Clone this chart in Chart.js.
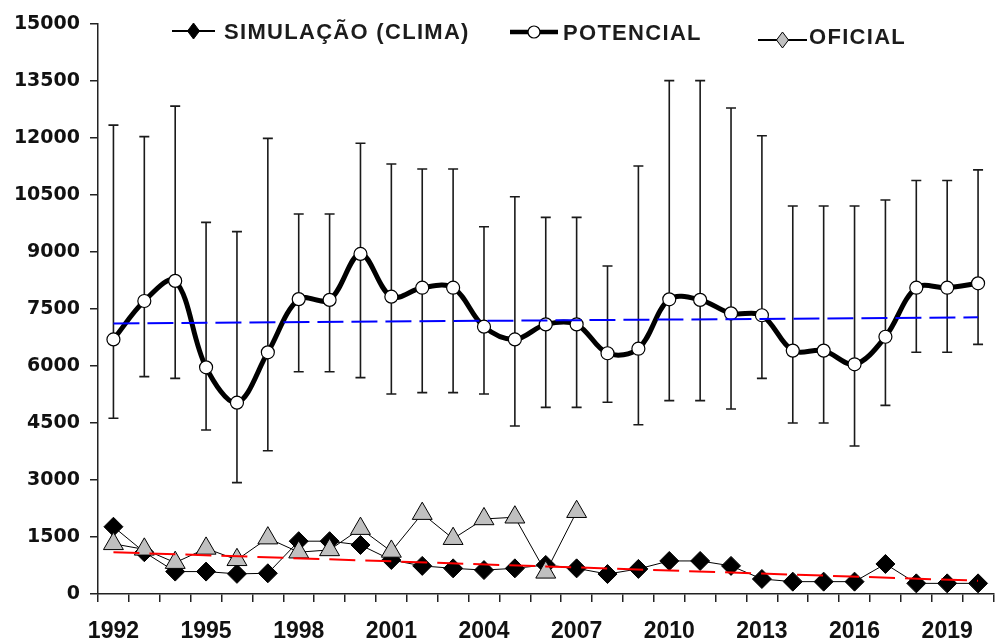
<!DOCTYPE html>
<html>
<head>
<meta charset="utf-8">
<script src="https://cdn.jsdelivr.net/npm/chart.js@4.4.1/dist/chart.umd.min.js"></script>
<style>
    html, body { margin: 0; padding: 0; background: #fff; overflow: hidden; }
    #wrap { width: 1006px; height: 642px; position: relative; }
</style>
</head>
<body>
<div id="wrap"><canvas id="chart"></canvas></div>
<script>
const years = ['1992','1993','1994','1995','1996','1997','1998','1999','2000','2001','2002','2003','2004','2005',
    '2006','2007','2008','2009','2010','2011','2012','2013','2014','2015','2016','2017','2018','2019','2020'];

const potencial = [6700, 7710, 8240, 5965, 5035, 6360, 7760, 7740, 8950, 7825, 8060, 8060, 7035, 6700,
    7095, 7095, 6335, 6455, 7755, 7740, 7385, 7335, 6405, 6405, 6045, 6770, 8060, 8060, 8175];
const potHigh = [12340, 12035, 12840, 9780, 9535, 11990, 10000, 10000, 11860, 11315, 11185, 11185, 9665, 10455,
    9910, 9910, 8630, 11265, 13510, 13510, 12790, 12060, 10210, 10210, 10210, 10370, 10880, 10880, 11160];
const potLow = [4625, 5720, 5675, 4315, 2930, 3770, 5850, 5850, 5695, 5265, 5300, 5300, 5265, 4420,
    4910, 4910, 5045, 4455, 5090, 5090, 4870, 5675, 4500, 4500, 3895, 4965, 6360, 6360, 6570];

const simulacao = [1770, 1100, 590, 590, 530, 545, 1390, 1390, 1290, 895, 740, 675, 630, 675,
    765, 675, 525, 660, 870, 870, 740, 395, 325, 325, 325, 790, 280, 280, 280];
const oficial = [1320, 1175, 825, 1200, 900, 1470, 1100, 1160, 1720, 1120, 2115, 1455, 1975, 2020,
    570, 2165, null, null, null, null, null, null, null, null, null, null, null, null, null];

// trend lines: value at first and last year only
const potTrendEnds = [7120, 7280];
const simTrendEnds = [1100, 350];

const yTicks = [0, 1500, 3000, 4500, 6000, 7500, 9000, 10500, 12000, 13500, 15000];

function endsToData(ends) {
    return years.map((y, i) => i === 0 ? ends[0] : (i === years.length - 1 ? ends[1] : null));
}

const errorBars = {
    id: 'errorBars',
    beforeDatasetsDraw(chart) {
        const ctx = chart.ctx;
        const xs = chart.scales.x, ys = chart.scales.y;
        ctx.save();
        ctx.strokeStyle = '#1a1a1a';
        ctx.lineWidth = 1.6;
        for (let i = 0; i < years.length; i++) {
            const x = xs.getPixelForValue(i);
            const t = ys.getPixelForValue(potHigh[i]);
            const b = ys.getPixelForValue(potLow[i]);
            ctx.beginPath();
            ctx.moveTo(x, t); ctx.lineTo(x, b);
            ctx.moveTo(x - 5, t); ctx.lineTo(x + 5, t);
            ctx.moveTo(x - 5, b); ctx.lineTo(x + 5, b);
            ctx.stroke();
        }
        ctx.restore();
    }
};

function diamond(ctx, x, y, r, fill) {
    ctx.beginPath();
    ctx.moveTo(x, y - r); ctx.lineTo(x + r * 0.75, y); ctx.lineTo(x, y + r); ctx.lineTo(x - r * 0.75, y);
    ctx.closePath();
    ctx.fillStyle = fill; ctx.fill();
    ctx.strokeStyle = '#000'; ctx.lineWidth = 1; ctx.stroke();
}

const legendItems = [
    { text: 'SIMULAÇÃO (CLIMA)', x1: 172, x2: 215, cy: 31, ty: 33, tx: 224, lw: 2, mark: 'dia', fill: '#000' },
    { text: 'POTENCIAL', x1: 510, x2: 558, cy: 32, ty: 34, tx: 563, lw: 4.5, mark: 'circ', fill: '#fff' },
    { text: 'OFICIAL', x1: 758, x2: 807, cy: 40, ty: 38, tx: 809, lw: 2, mark: 'dia', fill: '#c0c0c0' }
];

const topLegend = {
    id: 'topLegend',
    afterDraw(chart) {
        const ctx = chart.ctx;
        ctx.save();
        legendItems.forEach(it => {
            ctx.strokeStyle = '#000';
            ctx.lineWidth = it.lw;
            ctx.beginPath();
            ctx.moveTo(it.x1, it.cy); ctx.lineTo(it.x2, it.cy);
            ctx.stroke();
            const mx = (it.x1 + it.x2) / 2;
            if (it.mark === 'dia') {
                diamond(ctx, mx, it.cy, 8, it.fill);
            } else {
                ctx.beginPath();
                ctx.arc(mx, it.cy, 6, 0, Math.PI * 2);
                ctx.fillStyle = '#fff'; ctx.fill();
                ctx.lineWidth = 1.2; ctx.strokeStyle = '#000'; ctx.stroke();
            }
            ctx.font = 'bold 22px "Liberation Sans", Arial, sans-serif';
            ctx.letterSpacing = '1.3px';
            ctx.fillStyle = '#1c1c1c';
            ctx.textAlign = 'left';
            ctx.textBaseline = 'middle';
            ctx.fillText(it.text, it.tx, it.ty);
        });
        ctx.restore();
    }
};

new Chart(document.getElementById('chart'), {
    type: 'line',
    data: {
        labels: years,
        datasets: [
            {
                label: 'tendência simulação',
                data: endsToData(simTrendEnds),
                borderColor: '#ff0000',
                borderWidth: 2,
                borderDash: [26, 10],
                spanGaps: true,
                pointRadius: 0
            },
            {
                label: 'tendência potencial',
                data: endsToData(potTrendEnds),
                borderColor: '#0000ff',
                borderWidth: 2,
                borderDash: [26, 8],
                spanGaps: true,
                pointRadius: 0
            },
            {
                label: 'OFICIAL',
                data: oficial,
                borderColor: '#000',
                borderWidth: 1,
                pointStyle: 'triangle',
                pointRadius: 11.5,
                pointBackgroundColor: '#c0c0c0',
                pointBorderColor: '#000',
                pointBorderWidth: 1
            },
            {
                label: 'SIMULAÇÃO (CLIMA)',
                data: simulacao,
                borderColor: '#000',
                borderWidth: 1,
                pointStyle: 'rectRot',
                pointRadius: 9.5,
                pointBackgroundColor: '#000',
                pointBorderColor: '#000',
                pointBorderWidth: 1
            },
            {
                label: 'POTENCIAL',
                data: potencial,
                borderColor: '#000',
                borderWidth: 5,
                tension: 0.35,
                pointStyle: 'circle',
                pointRadius: 6.5,
                pointBackgroundColor: '#fff',
                pointBorderColor: '#000',
                pointBorderWidth: 1.2
            }
        ]
    },
    options: {
        responsive: true,
        maintainAspectRatio: false,
        animation: false,
        layout: { padding: { top: 24, left: 0, right: 0, bottom: 0 } },
        plugins: {
            legend: { display: false },
            tooltip: { enabled: false }
        },
        scales: {
            x: {
                offset: true,
                grid: { offset: true, drawOnChartArea: false, tickLength: 8, color: '#222', lineWidth: 1.5 },
                border: { color: '#222', width: 1.5 },
                ticks: {
                    autoSkip: false,
                    maxRotation: 0,
                    padding: 16,
                    color: '#111',
                    font: { family: '"Liberation Sans", Arial, sans-serif', size: 23, weight: 'bold' },
                    callback: function(value, index) {
                        return index % 3 === 0 ? years[index] : '';
                    }
                },
                afterFit: function(scale) { scale.height = 48; }
            },
            y: {
                min: 0,
                max: 15000,
                afterBuildTicks: function(scale) { scale.ticks = yTicks.map(v => ({ value: v })); },
                grid: { drawOnChartArea: false, tickLength: 8, color: '#222', lineWidth: 1.5 },
                border: { color: '#222', width: 1.5 },
                ticks: {
                    padding: 10,
                    color: '#111',
                    font: { family: '"DejaVu Sans", sans-serif', size: 19, weight: 'bold' },
                    callback: function(value) { return String(value); }
                },
                afterFit: function(scale) { scale.width = 98; }
            }
        }
    },
    plugins: [errorBars, topLegend]
});
</script>
</body>
</html>
